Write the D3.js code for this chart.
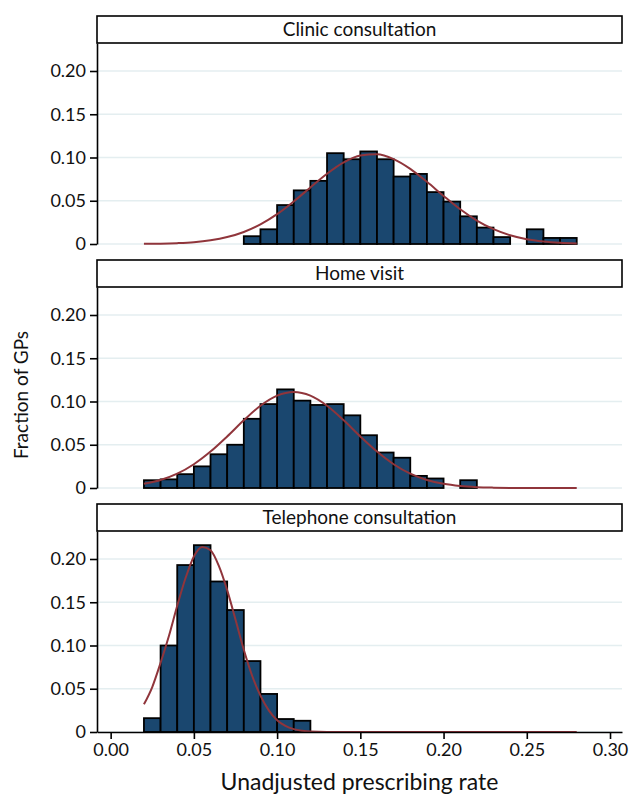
<!DOCTYPE html>
<html>
<head>
<meta charset="utf-8">
<script src="https://cdn.jsdelivr.net/npm/d3@7"></script>
<style>
  body { margin: 0; background: #fff; }
  text { font-family: Lato, "Open Sans", sans-serif; fill: #111; }
</style>
</head>
<body>
<div id="chart"></div>
<script>
// panel titles
const panelTitles = ["Clinic consultation", "Home visit", "Telephone consultation"];

const binWidth = 0.01;
const clinicStart = 0.08;
const clinicFrac = [0.009, 0.017, 0.045, 0.062, 0.073, 0.105, 0.098, 0.107, 0.098, 0.078,
                    0.081, 0.060, 0.049, 0.032, 0.019, 0.008, 0, 0.017, 0.007, 0.007];
const homeStart = 0.02;
const homeFrac = [0.009, 0.010, 0.016, 0.025, 0.039, 0.050, 0.080, 0.097, 0.114, 0.101,
                  0.096, 0.097, 0.084, 0.061, 0.041, 0.035, 0.014, 0.011, 0, 0.009];
const phoneStart = 0.02;
const phoneFrac = [0.016, 0.100, 0.193, 0.216, 0.174, 0.141, 0.082, 0.044, 0.015, 0.013];

// fitted normal curves
const curveX = [0.02, 0.03, 0.04, 0.05, 0.06, 0.07, 0.08, 0.09, 0.10, 0.11, 0.12, 0.13, 0.14,
                0.15, 0.16, 0.17, 0.18, 0.19, 0.20, 0.21, 0.22, 0.23, 0.24, 0.25, 0.26, 0.27, 0.28];
const clinicCurve = [0.0002, 0.0004, 0.0010, 0.0021, 0.0043, 0.0080, 0.0139, 0.0227, 0.0345, 0.0492,
                     0.0654, 0.0812, 0.0943, 0.1023, 0.1037, 0.0982, 0.0869, 0.0719, 0.0556, 0.0401,
                     0.0271, 0.0171, 0.0101, 0.0055, 0.0029, 0.0014, 0.0006];
const homeCurve = [0.0048, 0.0093, 0.0166, 0.0275, 0.0421, 0.0596, 0.0783, 0.0951, 0.1068, 0.1110,
                   0.1068, 0.0951, 0.0783, 0.0596, 0.0421, 0.0275, 0.0166, 0.0093, 0.0048, 0.0023,
                   0.0010, 0.0004, 0.0001, 0, 0, 0, 0];
const phoneCurveX = [0.020, 0.025, 0.030, 0.035, 0.040, 0.045, 0.050, 0.055, 0.060, 0.065, 0.070,
                     0.075, 0.080, 0.085, 0.090, 0.095, 0.100, 0.105, 0.110, 0.115, 0.120,
                     0.14, 0.16, 0.18, 0.20, 0.22, 0.24, 0.26, 0.28];
const phoneCurve = [0.032, 0.052, 0.080, 0.111, 0.146, 0.178, 0.203, 0.214, 0.210, 0.192, 0.164,
                    0.130, 0.095, 0.065, 0.042, 0.025, 0.0136, 0.0070, 0.0033, 0.0015, 0.0006,
                    0, 0, 0, 0, 0, 0, 0, 0];

const yTicks = [0, 0.05, 0.10, 0.15, 0.20];
const xTicks = [0, 0.05, 0.10, 0.15, 0.20, 0.25, 0.30];

const panelData = [
  {title: panelTitles[0], start: clinicStart, frac: clinicFrac, cx: curveX, cy: clinicCurve},
  {title: panelTitles[1], start: homeStart, frac: homeFrac, cx: curveX, cy: homeCurve},
  {title: panelTitles[2], start: phoneStart, frac: phoneFrac, cx: phoneCurveX, cy: phoneCurve}
];

const width = 630, height = 795;
const left = 97, right = 622;
const pitch = 244, boxTop0 = 16, boxH = 27;

const svg = d3.select("#chart")
  .append("svg")
  .attr("width", width)
  .attr("height", height);

const x = d3.scaleLinear()
  .domain([-0.0082, 0.3072])
  .range([left, right]);

panelData.forEach((p, i) => {
  const boxTop = boxTop0 + i * pitch;
  const plotTop = boxTop + boxH;
  const zeroY = 244 + i * pitch;

  const y = d3.scaleLinear()
    .domain([0, 0.05 * (zeroY - plotTop) / 43.25])
    .range([zeroY, plotTop]);

  const g = svg.append("g");

  // gridlines
  g.append("g")
    .selectAll("line")
    .data(yTicks)
    .join("line")
      .attr("x1", left)
      .attr("x2", right)
      .attr("y1", d => y(d))
      .attr("y2", d => y(d))
      .attr("stroke", "#e4eef0")
      .attr("stroke-width", 1.5);

  // bars
  const bins = p.frac.map((v, k) => ({x0: p.start + k * binWidth, v: v})).filter(d => d.v > 0);
  g.append("g")
    .selectAll("rect")
    .data(bins)
    .join("rect")
      .attr("x", d => x(d.x0))
      .attr("y", d => y(d.v))
      .attr("width", d => x(d.x0 + binWidth) - x(d.x0))
      .attr("height", d => y(0) - y(d.v))
      .attr("fill", "#1a476f")
      .attr("stroke", "#000")
      .attr("stroke-width", 1.8);

  // normal curve
  const line = d3.line()
    .x(d => x(d[0]))
    .y(d => y(d[1]))
    .curve(d3.curveMonotoneX);
  g.append("path")
    .datum(p.cx.map((cx, k) => [cx, p.cy[k]]))
    .attr("d", line)
    .attr("fill", "none")
    .attr("stroke", "#90353b")
    .attr("stroke-width", 2);

  // y axis
  const yAxis = g.append("g")
    .attr("transform", `translate(${left},0)`)
    .call(d3.axisLeft(y)
      .tickValues(yTicks)
      .tickSize(7)
      .tickSizeOuter(0)
      .tickPadding(4)
      .tickFormat(d => d === 0 ? "0" : d3.format(".2f")(d)));
  yAxis.selectAll("path, line").attr("stroke", "#000").attr("stroke-width", 1.6);
  yAxis.selectAll("text").style("font-size", "18px").attr("fill", "#111");

  // title box
  g.append("rect")
    .attr("x", left)
    .attr("y", boxTop)
    .attr("width", right - left)
    .attr("height", boxH)
    .attr("fill", "#fff")
    .attr("stroke", "#000")
    .attr("stroke-width", 1.6);
  g.append("text")
    .attr("x", (left + right) / 2)
    .attr("y", boxTop + 20)
    .attr("text-anchor", "middle")
    .style("font-size", "19px")
    .text(p.title);

  // x axis only on the last panel
  if (i === panelData.length - 1) {
    const xAxis = g.append("g")
      .attr("transform", `translate(0,${zeroY})`)
      .call(d3.axisBottom(x)
        .tickValues(xTicks)
        .tickSize(7)
        .tickSizeOuter(0)
        .tickPadding(4)
        .tickFormat(d3.format(".2f")));
    xAxis.selectAll("path, line").attr("stroke", "#000").attr("stroke-width", 1.6);
    xAxis.selectAll("text").style("font-size", "18px").attr("fill", "#111");
  }
});

// axis titles
svg.append("text")
  .attr("x", (left + right) / 2)
  .attr("y", 790)
  .attr("text-anchor", "middle")
  .style("font-size", "23px")
  .text("Unadjusted prescribing rate");

svg.append("text")
  .attr("transform", "translate(28,395) rotate(-90)")
  .attr("text-anchor", "middle")
  .style("font-size", "19px")
  .text("Fraction of GPs");
</script>
</body>
</html>
